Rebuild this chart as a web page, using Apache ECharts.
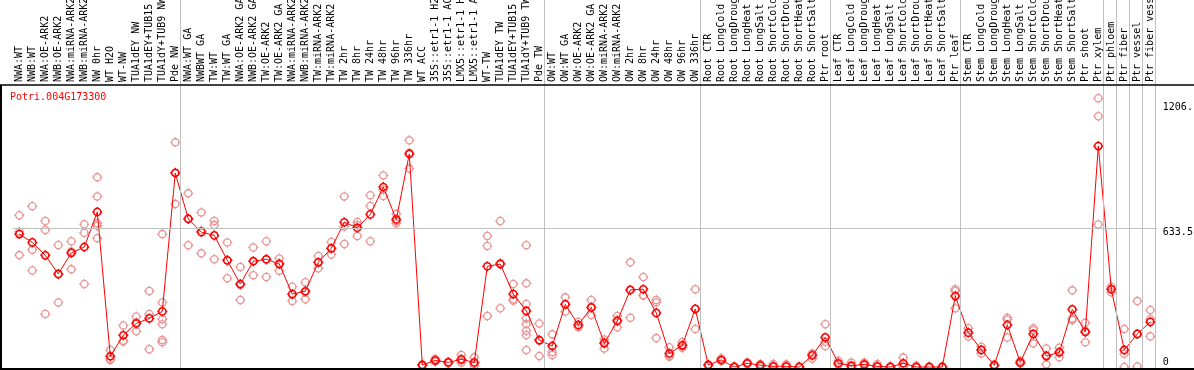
<!DOCTYPE html>
<html>
<head>
<meta charset="utf-8">
<script src="https://cdn.jsdelivr.net/npm/echarts@6/dist/echarts.min.js"></script>
<style>
html,body{margin:0;padding:0;background:#fff;}
#chart{width:1194px;height:370px;}
</style>
</head>
<body>
<div id="chart"></div>
<script>
const geneName = 'Potri.004G173300';

const categories = [
  'NWA:WT','NWB:WT','NWA:OE-ARK2','NWB:OE-ARK2','NWA:miRNA-ARK2','NWB:miRNA-ARK2','NW 0hr','WT H2O','WT-NW','TUA1dEY NW','TUA1dEY+TUB15 NW','TUA1dY+TUB9 NW','Pde NW',
  'NWA:WT GA','NWBWT GA','TW:WT','TW:WT GA','NWA:OE-ARK2 GA','NWB:OE-ARK2 GA','TW:OE-ARK2','TW:OE-ARK2 GA','NWA:miRNA-ARK2 GA','NWB:miRNA-ARK2 GA','TW:miRNA-ARK2','TW:miRNA-ARK2 GA','TW 2hr','TW 8hr','TW 24hr','TW 48hr','TW 96hr','TW 336hr','WT ACC','35S::etr1-1 H2O','35S::etr1-1 ACC','LMX5::etr1-1 H2O','LMX5::etr1-1 ACC','WT-TW','TUA1dEY TW','TUA1dEY+TUB15 TW','TUA1dY+TUB9 TW','Pde TW',
  'OW:WT','OW:WT GA','OW:OE-ARK2','OW:OE-ARK2 GA','OW:miRNA-ARK2','OW:miRNA-ARK2 GA','OW 2hr','OW 8hr','OW 24hr','OW 48hr','OW 96hr','OW 336hr',
  'Root CTR','Root LongCold','Root LongDrought','Root LongHeat','Root LongSalt','Root ShortCold','Root ShortDrought','Root ShortHeat','Root ShortSalt','Ptr root',
  'Leaf CTR','Leaf LongCold','Leaf LongDrought','Leaf LongHeat','Leaf LongSalt','Leaf ShortCold','Leaf ShortDrought','Leaf ShortHeat','Leaf ShortSalt','Ptr leaf',
  'Stem CTR','Stem LongCold','Stem LongDrought','Stem LongHeat','Stem LongSalt','Stem ShortCold','Stem ShortDrought','Stem ShortHeat','Stem ShortSalt','Ptr shoot','Ptr xylem',
  'Ptr phloem','Ptr fiber','Ptr vessel','Ptr fiber vessel'
];

const meanValues = [
  607,569,510,425,521,548,708,49,145,199,222,254,886,
  676,616,601,487,379,483,492,470,333,346,478,542,661,636,697,822,674,973,9,30,21,35,21,460,470,333,256,123,
  96,286,192,272,108,210,352,355,247,62,99,265,
  9,32,0,17,8,3,3,0,53,135,
  17,6,12,3,0,17,0,0,0,324,
  157,78,8,192,21,151,50,67,263,160,1009,
  355,78,151,206
];

const replicateValues = [
  [693,618,511],[734,536,441],[667,626,242],[557,295,423],[574,527,446],[652,613,379],[866,779,656,645,588],[78,32,37],[190,120,116],[231,163,203],[347,242,81],[607,295,218,195,123,113],[1026,744,888],
  [793,556,679],[706,519,623],[667,648,492],[569,405,487],[457,306,374],[546,419,484],[574,411,491],[496,440,474],[367,301,331],[387,309,342],[507,451,476],[571,514,541],[779,562,642],[662,598,648],[784,735,574],[875,781,810],[699,656,667],[1035,906,978],[12,6,9],[38,25,27],[24,18,21],[55,20,30],[44,14,5],[598,553,233],[667,268,475],[379,309,303],[556,382,288,222,196,166,146,78],[199,50,120],
  [149,68,55],[318,253,287],[206,181,189],[306,237,273],[126,84,114],[233,181,216],[478,225,352],[411,326,328],[306,295,132],[90,47,50],[114,88,95],[355,174,266],
  [12,7,8],[40,28,28],[3,0,0],[22,14,15],[14,6,4],[14,0,0],[12,0,0],[3,0,0],[62,38,59],[195,96,115],
  [29,12,10],[20,0,0],[21,8,7],[14,0,0],[3,0,0],[43,0,8],[6,0,0],[3,0,0],[3,0,0],[355,347,268],
  [177,139,155],[93,62,79],[12,6,6],[225,135,216],[29,18,16],[177,108,168],[85,12,53],[88,44,69],[350,222,215],[202,113,165],[1227,1145,651],
  [367,341,357],[174,0,60],[301,2,150],[260,140,218]
];

// group boundaries (in number of categories from the left)
const groupBoundaries = [0, 13, 41, 53, 63, 73, 84, 85, 86, 87, 88];
const yTickValues = [0, 633.5, 1206];
const yTickLabels = ['0', '633.5', '1206.'];
const gridLineValue = 633.5;

const FONT = 'DejaVu Sans Mono';
const circleSymbol = 'path://M-3.6,0A3.6,3.6,0,1,1,3.6,0A3.6,3.6,0,1,1,-3.6,0Z M0,-5L0,-3.6 M0,3.6L0,5 M-5,0L-3.6,0 M3.6,0L5,0';

const replicatePoints = [];
replicateValues.forEach((reps, i) => reps.forEach(v => replicatePoints.push([i, v])));

const chart = echarts.init(document.getElementById('chart'), null, {renderer: 'canvas'});

const option = {
  animation: false,
  backgroundColor: '#fff',
  title: {
    text: geneName,
    left: 7,
    top: 90,
    padding: [2, 3],
    textStyle: {color: '#ff0000', fontSize: 10, fontWeight: 'normal', fontFamily: FONT}
  },
  grid: {
    left: 12.8, top: 0, width: 1144, bottom: 0,
    containLabel: false, outerBoundsMode: 'none'
  },
  xAxis: [
    {
      type: 'category',
      data: categories,
      position: 'top',
      offset: -85,
      boundaryGap: true,
      axisLine: {show: false},
      axisTick: {show: false},
      splitLine: {show: false},
      axisLabel: {
        show: true, interval: 0, rotate: 90, margin: 3,
        fontSize: 10, fontFamily: FONT, color: '#000', hideOverlap: false
      }
    },
    {
      type: 'value',
      min: 0.1, max: 88.1,
      show: false,
      splitLine: {show: false}
    }
  ],
  yAxis: {
    type: 'value',
    position: 'right',
    min: -13.7, max: 1676,
    axisLine: {show: false},
    axisTick: {show: false},
    splitLine: {show: false},
    axisLabel: {
      show: true,
      customValues: yTickValues,
      margin: 6,
      verticalAlign: 'middle',
      fontSize: 10, fontFamily: FONT, color: '#000',
      formatter: function (v) {
        const idx = yTickValues.indexOf(v);
        const txt = idx >= 0 ? yTickLabels[idx] : '';
        return v === 0 ? '{b|' + txt + '}' : '{t|' + txt + '}';
      },
      rich: {
        t: {fontSize: 10, fontFamily: FONT, color: '#000', padding: [9, 0, 0, 0]},
        b: {fontSize: 10, fontFamily: FONT, color: '#000', padding: [0, 0, 10, 0]}
      }
    }
  },
  series: [
    {
      type: 'scatter',
      xAxisIndex: 1,
      yAxisIndex: 0,
      data: [],
      silent: true,
      z: 1,
      markLine: {
        silent: true,
        symbol: ['none', 'none'],
        label: {show: false},
        lineStyle: {color: '#c0c0c0', width: 1, type: 'solid'},
        emphasis: {disabled: true},
        data: groupBoundaries.map(b => ({xAxis: b})).concat([{yAxis: gridLineValue}])
      }
    },
    {
      type: 'scatter',
      xAxisIndex: 0,
      yAxisIndex: 0,
      data: replicatePoints,
      symbol: circleSymbol,
      symbolSize: 10,
      silent: true,
      z: 2,
      itemStyle: {color: 'rgba(0,0,0,0)', borderColor: '#e89494', borderWidth: 1.3, opacity: 1}
    },
    {
      type: 'line',
      xAxisIndex: 0,
      yAxisIndex: 0,
      data: meanValues,
      symbol: circleSymbol,
      symbolSize: 10,
      showAllSymbol: true,
      silent: true,
      z: 3,
      lineStyle: {color: '#ff0000', width: 1},
      itemStyle: {color: 'rgba(0,0,0,0)', borderColor: '#ff0000', borderWidth: 1.5}
    }
  ],
  graphic: [
    {type: 'line', z: 100, shape: {x1: 0, y1: 85, x2: 1194, y2: 85}, style: {stroke: '#000', lineWidth: 1.6}},
    {type: 'line', z: 100, shape: {x1: 1, y1: 85, x2: 1, y2: 370}, style: {stroke: '#000', lineWidth: 2}},
    {type: 'line', z: 100, shape: {x1: 0, y1: 369, x2: 1194, y2: 369}, style: {stroke: '#000', lineWidth: 2}}
  ]
};

chart.setOption(option);
</script>
</body>
</html>
